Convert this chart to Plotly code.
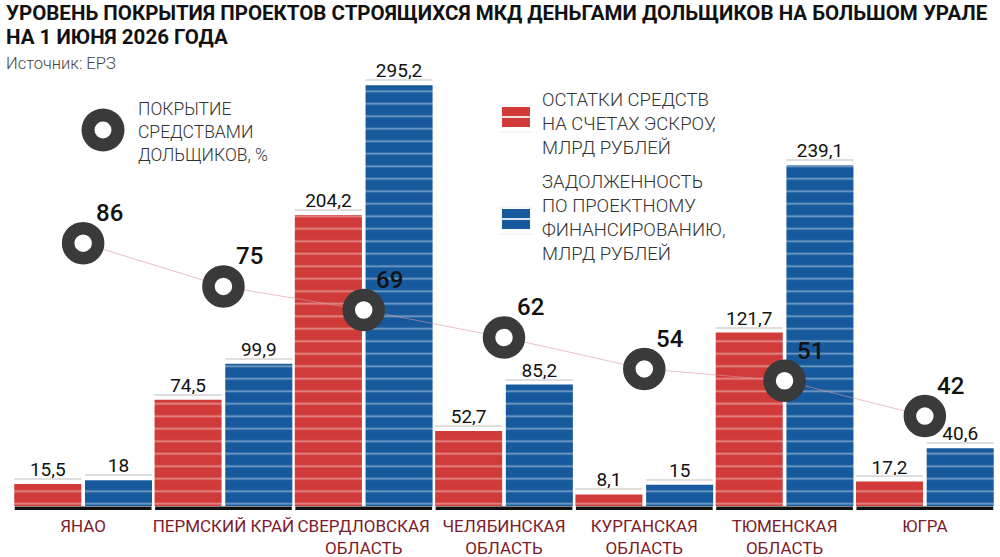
import plotly.graph_objects as go

# Данные: регионы Большого Урала
regions = ['ЯНАО', 'ПЕРМСКИЙ КРАЙ', 'СВЕРДЛОВСКАЯ<br>ОБЛАСТЬ', 'ЧЕЛЯБИНСКАЯ<br>ОБЛАСТЬ',
           'КУРГАНСКАЯ<br>ОБЛАСТЬ', 'ТЮМЕНСКАЯ<br>ОБЛАСТЬ', 'ЮГРА']
escrow = [15.5, 74.5, 204.2, 52.7, 8.1, 121.7, 17.2]      # остатки на эскроу, млрд руб.
debt = [18, 99.9, 295.2, 85.2, 15, 239.1, 40.6]           # задолженность по ПФ, млрд руб.
coverage = [86, 75, 69, 62, 54, 51, 42]                   # покрытие, %

RED = '#d03a38'
BLUE = '#16599c'
RING = '#3a3a3a'
MAROON = '#7b1b2b'
FONT = 'Roboto, sans-serif'

# границы области построения в пикселях
L, R, T, B = 13, 995, 60, 510


def px(x):
    return (x - L) / (R - L)


def py(y):
    return (B - y) / (B - T)


def fmt(v):
    return '{:g}'.format(v).replace('.', ',')


xs = list(range(len(regions)))
off = 0.252
bw = 0.478

fig = go.Figure()

# чёрная подложка под каждой группой
fig.add_trace(go.Bar(x=xs, y=[2.6] * len(xs), base=-3.0, width=0.975,
                     marker=dict(color='#111111', line_width=0), hoverinfo='skip'))

stripes = dict(shape='-', fgcolor='rgba(255,255,255,0.85)', size=12.5, solidity=0.14,
               fillmode='overlay')

fig.add_trace(go.Bar(x=[i - off for i in xs], y=escrow, width=bw,
                     marker=dict(color=RED, line_width=0, pattern=stripes),
                     text=[fmt(v) for v in escrow], textposition='outside',
                     textfont=dict(family=FONT, size=19, color='#111'),
                     cliponaxis=False, name='escrow'))
fig.add_trace(go.Bar(x=[i + off for i in xs], y=debt, width=bw,
                     marker=dict(color=BLUE, line_width=0, pattern=stripes),
                     text=[fmt(v) for v in debt], textposition='outside',
                     textfont=dict(family=FONT, size=19, color='#111'),
                     cliponaxis=False, name='debt'))

# тонкие серые линии над столбцами
fig.add_trace(go.Bar(x=[i - off for i in xs] + [i + off for i in xs],
                     y=[0.7] * (2 * len(xs)),
                     base=[v + 3.2 for v in escrow] + [v + 3.2 for v in debt],
                     width=bw, marker=dict(color='#dedede', line_width=0),
                     hoverinfo='skip'))

# линия покрытия и кольца
fig.add_trace(go.Scatter(x=xs, y=coverage, yaxis='y2', mode='lines',
                         line=dict(color='rgba(215,150,160,0.6)', width=1),
                         hoverinfo='skip'))
fig.add_trace(go.Scatter(x=xs, y=coverage, yaxis='y2', mode='markers',
                         marker=dict(symbol='circle', size=30, color='white',
                                     line=dict(color=RING, width=12.5)),
                         hoverinfo='skip'))

annotations = []
for i, c in zip(xs, coverage):
    annotations.append(dict(x=i, y=c, xref='x', yref='y2', text=str(c), showarrow=False,
                            xshift=26, yshift=30,
                            font=dict(family=FONT, size=24, color='#111', weight=500)))

# заголовок и источник
annotations += [
    dict(x=px(4), y=py(13), xref='paper', yref='paper', xanchor='left', yanchor='middle',
         text='<b>УРОВЕНЬ ПОКРЫТИЯ ПРОЕКТОВ СТРОЯЩИХСЯ МКД ДЕНЬГАМИ ДОЛЬЩИКОВ НА БОЛЬШОМ УРАЛЕ</b>',
         showarrow=False, font=dict(family=FONT, size=20.5, color='#111')),
    dict(x=px(4), y=py(37), xref='paper', yref='paper', xanchor='left', yanchor='middle',
         text='<b>НА 1 ИЮНЯ 2026 ГОДА</b>',
         showarrow=False, font=dict(family=FONT, size=20.5, color='#111')),
    dict(x=px(4), y=py(63), xref='paper', yref='paper', xanchor='left', yanchor='middle',
         text='Источник: ЕРЗ', showarrow=False,
         font=dict(family=FONT, size=16.5, color='#444', weight=300)),
    dict(x=px(136), y=py(132), xref='paper', yref='paper', xanchor='left', yanchor='middle',
         text='ПОКРЫТИЕ<br>СРЕДСТВАМИ<br>ДОЛЬЩИКОВ, %', align='left', showarrow=False,
         font=dict(family=FONT, size=17.5, color='#333', weight=300)),
    dict(x=px(540), y=py(124), xref='paper', yref='paper', xanchor='left', yanchor='middle',
         text='ОСТАТКИ СРЕДСТВ<br>НА СЧЕТАХ ЭСКРОУ,<br>МЛРД РУБЛЕЙ', align='left',
         showarrow=False, font=dict(family=FONT, size=18.5, color='#333', weight=300)),
    dict(x=px(540), y=py(218), xref='paper', yref='paper', xanchor='left', yanchor='middle',
         text='ЗАДОЛЖЕННОСТЬ<br>ПО ПРОЕКТНОМУ<br>ФИНАНСИРОВАНИЮ,<br>МЛРД РУБЛЕЙ', align='left',
         showarrow=False, font=dict(family=FONT, size=18.5, color='#333', weight=300)),
]

# значки легенды
shapes = []
for cy, col in [(117, RED), (219, BLUE)]:
    shapes.append(dict(type='rect', xref='paper', yref='paper', x0=px(502), x1=px(530),
                       y0=py(cy + 10), y1=py(cy - 10), fillcolor=col, line_width=0))
    shapes.append(dict(type='line', xref='paper', yref='paper', x0=px(502), x1=px(530),
                       y0=py(cy), y1=py(cy), line=dict(color='rgba(255,255,255,0.85)', width=2)))
    for gy in (cy - 12, cy + 15):
        shapes.append(dict(type='line', xref='paper', yref='paper', x0=px(498), x1=px(533),
                           y0=py(gy), y1=py(gy), line=dict(color='#eeeeee', width=1)))
shapes.append(dict(type='circle', xref='paper', yref='paper', x0=px(103 - 21.5), x1=px(103 + 21.5),
                   y0=py(130 + 21.5), y1=py(130 - 21.5), fillcolor=RING, line_width=0))
shapes.append(dict(type='circle', xref='paper', yref='paper', x0=px(103 - 8.5), x1=px(103 + 8.5),
                   y0=py(130 + 8.5), y1=py(130 - 8.5), fillcolor='white', line_width=0))

fig.update_layout(
    width=1000, height=557,
    margin=dict(l=L, r=1000 - R, t=T, b=557 - B, autoexpand=False),
    paper_bgcolor='white', plot_bgcolor='white',
    barmode='overlay', showlegend=False,
    xaxis=dict(range=[-0.5, 6.5], tickvals=xs, ticktext=regions, showgrid=False,
               zeroline=False, showline=False, ticks='', tickangle=0, automargin=False,
               ticklabelstandoff=4,
               tickfont=dict(family=FONT, size=17, color=MAROON)),
    yaxis=dict(range=[-2.8, 313.0], visible=False, showgrid=False, zeroline=False),
    yaxis2=dict(range=[18.1, 132.6], overlaying='y', visible=False, showgrid=False,
                zeroline=False),
    annotations=annotations,
    shapes=shapes,
)

fig.write_html('out.html', config={'displayModeBar': False},
               post_script="document.body.style.margin='0';")
